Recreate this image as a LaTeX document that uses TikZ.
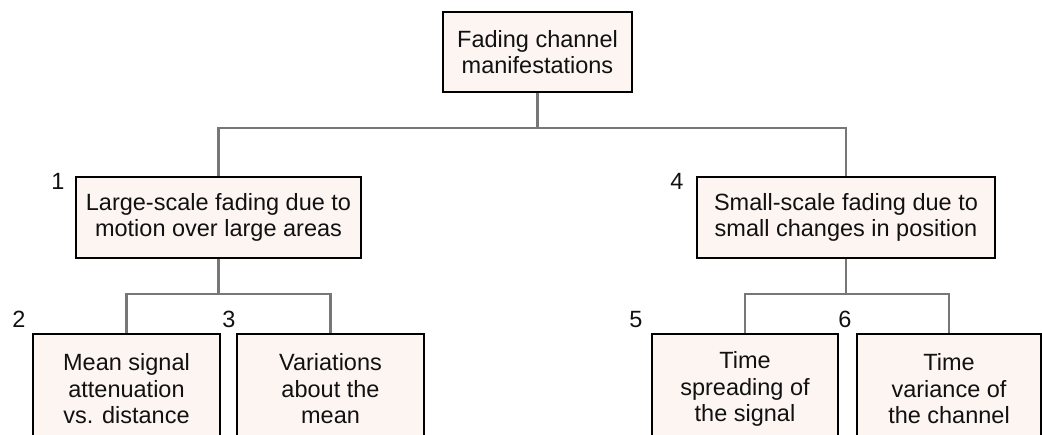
\documentclass[tikz,border=0pt]{standalone}
\usepackage{fontspec}
\setmainfont{Liberation Sans}
\definecolor{boxfill}{HTML}{FDF5F2}
\definecolor{linkgray}{HTML}{777777}
\definecolor{textcol}{HTML}{111111}
\begin{document}
\begin{tikzpicture}[x=1pt,y=-1pt,
  box/.style={draw=black, line width=2.2pt, fill=boxfill, align=center, inner sep=0pt,
    font=\fontsize{23.5}{26.5}\selectfont, text=textcol},
  link/.style={draw=linkgray, line width=2.4pt},
  num/.style={font=\fontsize{23.5}{26.5}\selectfont, anchor=base, inner sep=0pt, text=textcol}]
\useasboundingbox (0,0) rectangle (1042,434);
\clip (0,0) rectangle (1042,434);
\fill[white] (0,0) rectangle (1042,434);
% junctions
\coordinate (j0) at (537.5,128);
\coordinate (j1) at (218.5,294);
\coordinate (j4) at (846,294);
% boxes
\node[box, minimum width=189pt, minimum height=80pt] (top) at (537.5,52) {Fading channel\\manifestations};
\node[box, minimum width=285pt, minimum height=81pt] (n1) at (218.5,217.5) {Large-scale fading due to\\motion over large areas};
\node[box, minimum width=298pt, minimum height=81pt] (n4) at (846,217.5) {Small-scale fading due to\\small changes in position};
\node[box, minimum width=187pt, minimum height=110pt] (n2) at (126.5,389) {Mean signal\\attenuation\\vs. distance};
\node[box, minimum width=187pt, minimum height=110pt] (n3) at (330.5,389) {Variations\\about the\\mean};
\node[box, minimum width=186pt, minimum height=110pt] (n5) at (745,389) {Time\\spreading of\\the signal};
\node[box, minimum width=184pt, minimum height=110pt] (n6) at (949,389) {Time\\variance of\\the channel};
% connectors
\draw[link] (top.south) -- (j0);
\draw[link] (n1.north) |- (j0) -| (n4.north);
\draw[link] (n1.south) -- (j1);
\draw[link] (n2.north) |- (j1) -| (n3.north);
\draw[link] (n4.south) -- (j4);
\draw[link] (n5.north) |- (j4) -| (n6.north);
% numbers
\node[num] (l1) at (58,189) {1};
\node[num] (l2) at (19,327) {2};
\node[num] (l3) at (229,327) {3};
\node[num] (l4) at (677,189) {4};
\node[num] (l5) at (636,327) {5};
\node[num] (l6) at (845,327) {6};
\end{tikzpicture}
\end{document}
